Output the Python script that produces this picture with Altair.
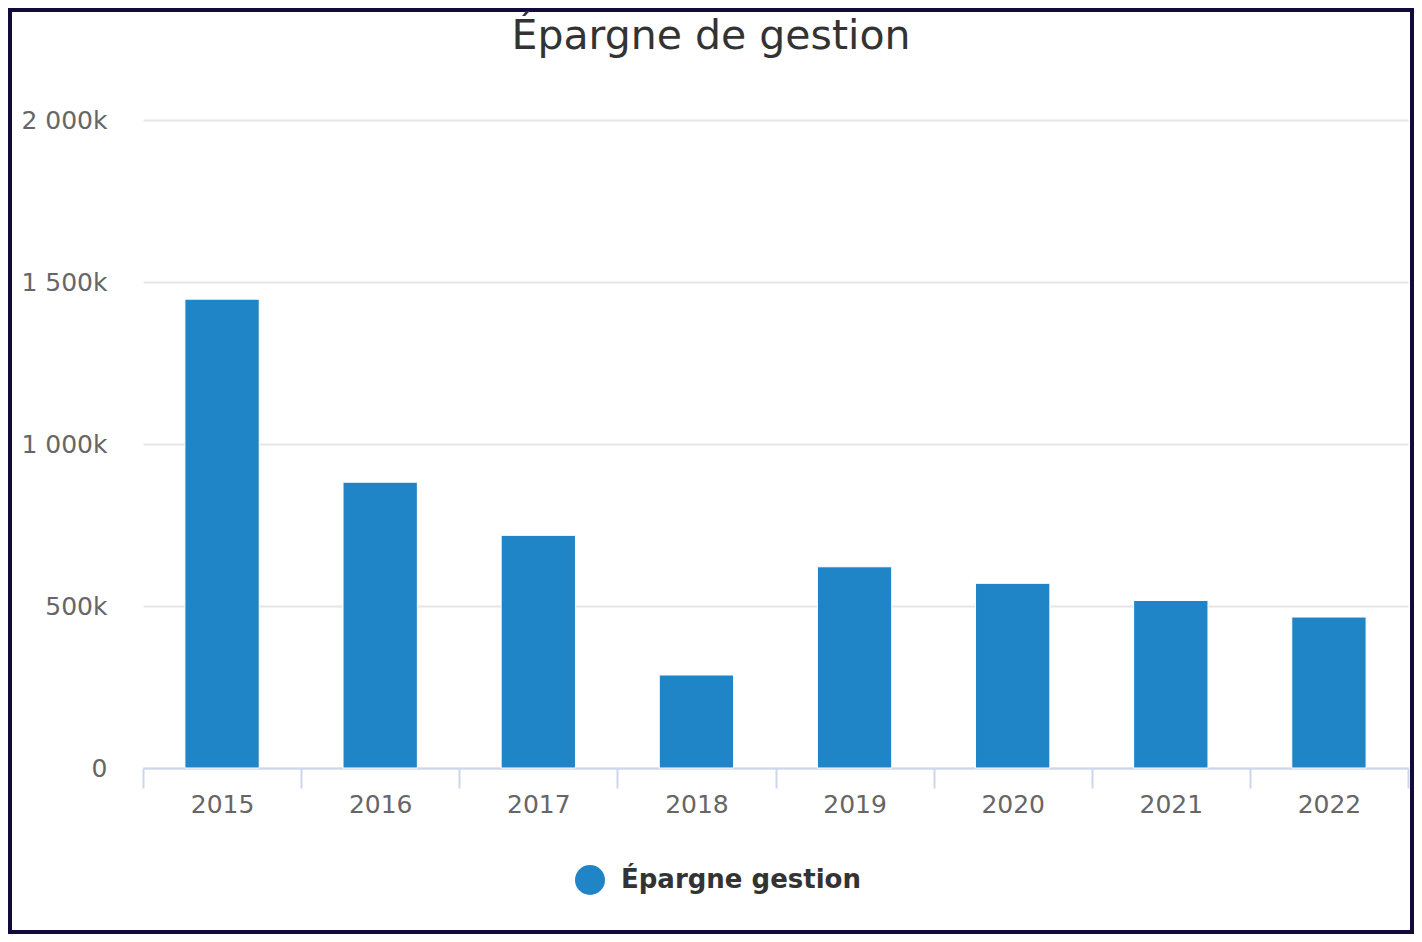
import altair as alt
import pandas as pd

years = ["2015", "2016", "2017", "2018", "2019", "2020", "2021", "2022"]
values = [1447000, 882000, 718000, 287000, 621000, 570000, 517000, 466000]
series = "Épargne gestion"
y_ticks = [0, 500000, 1000000, 1500000, 2000000]

df = pd.DataFrame({"annee": years, "valeur": values, "serie": [series] * len(years)})

FONT = "DejaVu Sans"

bars = alt.Chart(df).mark_bar(
    stroke="white", strokeWidth=1, width=alt.RelativeBandSize(0.47)
).encode(
    x=alt.X(
        "annee:N",
        sort=years,
        title=None,
        scale=alt.Scale(paddingInner=0, paddingOuter=0),
        axis=alt.Axis(
            labelAngle=0,
            labelFont=FONT,
            labelFontSize=25,
            labelColor="#666666",
            labelPadding=4,
            domainColor="#ccd6eb",
            domainWidth=2,
            tickColor="#ccd6eb",
            tickWidth=2,
            tickSize=20,
            tickBand="extent",
            grid=False,
        ),
    ),
    y=alt.Y(
        "valeur:Q",
        title=None,
        scale=alt.Scale(domain=[0, 2000000], nice=False),
        axis=alt.Axis(
            values=y_ticks,
            labelExpr="datum.value == 0 ? '0' : replace(format(datum.value / 1000, ','), ',', ' ') + 'k'",
            labelFont=FONT,
            labelFontSize=25,
            labelColor="#666666",
            labelPadding=36,
            domain=False,
            ticks=False,
            grid=True,
            gridColor="#e6e6e6",
            gridWidth=2,
        ),
    ),
    color=alt.Color(
        "serie:N",
        scale=alt.Scale(range=["#1f85c6"]),
        legend=alt.Legend(
            title=None,
            orient="none",
            legendX=432,
            legendY=745,
            symbolType="circle",
            symbolSize=900,
            symbolStrokeWidth=0,
            symbolOpacity=1,
            labelFont=FONT,
            labelFontSize=26,
            labelFontWeight="bold",
            labelColor="#333333",
            labelOffset=16,
            labelLimit=500,
            padding=0,
        ),
    ),
)

frame = alt.Chart(alt.Data(values=[{"k": 1}])).mark_rect(
    filled=False, stroke="#110a3a", strokeWidth=4, clip=False
).encode(
    x=alt.value(-133), x2=alt.value(1269), y=alt.value(-110), y2=alt.value(812)
)

chart = alt.layer(bars, frame).properties(
    width=1265,
    height=648,
    autosize=alt.AutoSizeParams(type="none"),
    padding={"left": 135, "top": 112, "right": 6, "bottom": 166},
    background="white",
    title=alt.TitleParams(
        "Épargne de gestion",
        font=FONT,
        fontSize=41,
        fontWeight="normal",
        color="#333333",
        anchor="middle",
        frame="bounds",
        offset=-50,
    ),
).configure_view(stroke=None)

chart.save("out.html", embed_options={"renderer": "svg", "actions": False})
